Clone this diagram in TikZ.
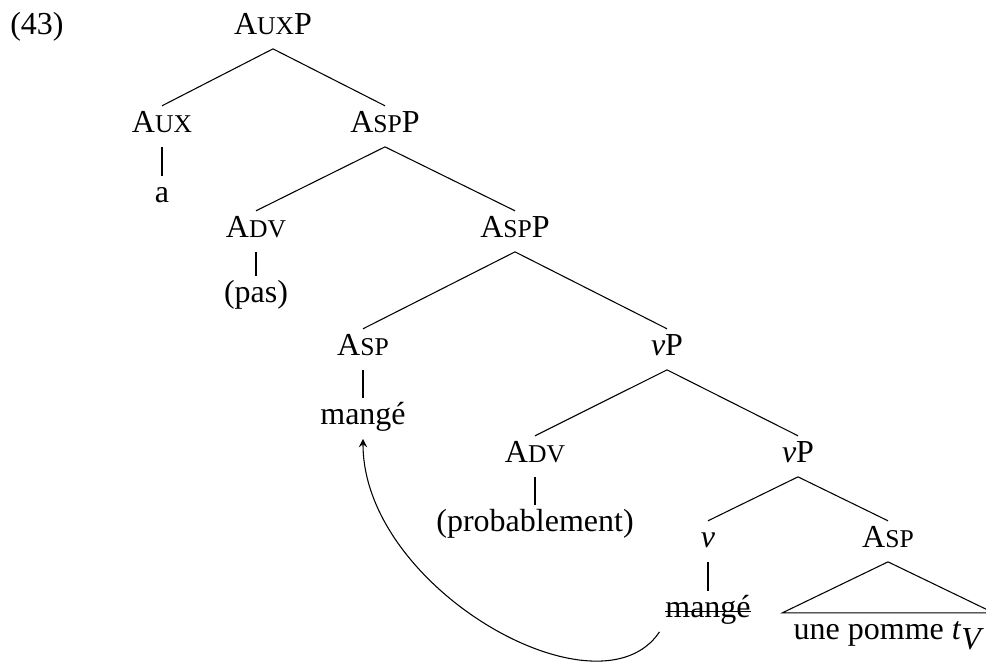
\documentclass[tikz,border=0pt]{standalone}
\usepackage{fontspec}
\setmainfont{Liberation Serif}
\newcommand{\fakesc}[1]{{\fontsize{9.6pt}{10pt}\selectfont\MakeUppercase{#1}}}
\tikzset{tnode/.style={anchor=base, text height=8pt, text depth=3pt, inner sep=2pt}}
\begin{document}
\begin{tikzpicture}[x=0.375pt,y=-0.375pt,font=\fontsize{12pt}{14pt}\selectfont]
    \useasboundingbox (0,0) rectangle (986,662);
    \node [tnode] (ex) at (37,35) {(43)};
    \node [tnode] (auxp) at (273,35) {A\fakesc{ux}P};
    \node [tnode] (aux) at (162,133) {A\fakesc{ux}};
    \node [tnode] (a) at (162,203) {a};
    \node [tnode] (aspp) at (385,133) {A\fakesc{sp}P};
    \node [tnode] (adv) at (256,238) {A\fakesc{dv}};
    \node [tnode] (pas) at (256,303) {(pas)};
    \node [tnode] (asppb) at (515,238) {A\fakesc{sp}P};
    \node [tnode] (asp) at (363,356) {A\fakesc{sp}};
    \node [tnode] (mange) at (363,425) {mangé};
    \node [tnode] (vp) at (667,356) {\textit{v}P};
    \node [tnode] (advb) at (535,463) {A\fakesc{dv}};
    \node [tnode] (prob) at (535,532) {(probablement)};
    \node [tnode] (vpb) at (798,463) {\textit{v}P};
    \node [tnode] (v) at (708,548) {\textit{v}};
    \node [tnode] (mangeb) at (708,618) {mangé};
    \node [tnode] (aspb) at (888,548) {A\fakesc{sp}};
    \node [tnode,minimum width=78.75pt] (pomme) at (888,640) {une pomme \textit{t}$_{\textit{V}}$};
    \draw (auxp.south) -- (aux.north);
    \draw (auxp.south) -- (aspp.north);
    \draw (aux.south) -- (a.north);
    \draw (aspp.south) -- (adv.north);
    \draw (aspp.south) -- (asppb.north);
    \draw (adv.south) -- (pas.north);
    \draw (asppb.south) -- (asp.north);
    \draw (asppb.south) -- (vp.north);
    \draw (asp.south) -- (mange.north);
    \draw (vp.south) -- (advb.north);
    \draw (vp.south) -- (vpb.north);
    \draw (advb.south) -- (prob.north);
    \draw (vpb.south) -- (v.north);
    \draw (vpb.south) -- (aspb.north);
    \draw (v.south) -- (mangeb.north);
    \draw ([xshift=2pt]mangeb.west) -- ([xshift=-2pt]mangeb.east);
    \draw (aspb.south) -- (pomme.north west) -- (pomme.north east) -- cycle;
    \draw [->,>=stealth] (mangeb.south west) .. controls +(-60,90) and +(0,150) .. (mange.south);
  \end{tikzpicture}
\end{document}
